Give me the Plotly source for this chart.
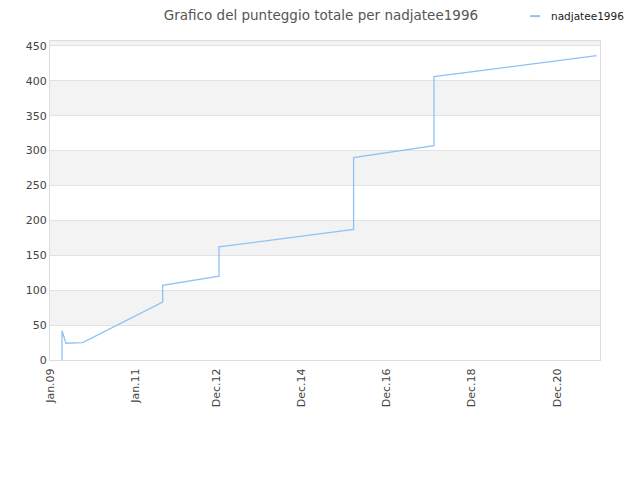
import plotly.graph_objects as go

# data
dates = ["2009-04-14", "2009-04-14", "2009-05-18", "2009-10-08",
         "2011-08-26", "2011-08-26", "2012-12-22", "2012-12-22",
         "2016-02-20", "2016-02-20", "2018-01-10", "2018-01-10",
         "2021-11-06"]
scores = [0, 42, 24, 25, 83, 107, 120, 162, 187, 290, 307, 406, 436]

tick_dates = ["2009-01-01", "2011-01-01", "2012-12-01", "2014-12-01",
              "2016-12-01", "2018-12-01", "2020-12-01"]
tick_text = ["Jan.09", "Jan.11", "Dec.12", "Dec.14", "Dec.16", "Dec.18", "Dec.20"]
y_ticks = [0, 50, 100, 150, 200, 250, 300, 350, 400, 450]
y_top = 457
line_color = "#90c2f4"

fig = go.Figure()
fig.add_trace(go.Scatter(x=dates, y=scores, mode="lines", name="nadjatee1996",
                         line=dict(color=line_color, width=1.3)))

# alternating grey bands
bands = y_ticks + [y_top]
for i in range(len(bands) - 1):
    if i % 2 == 1:
        fig.add_shape(type="rect", xref="paper", yref="y", x0=0, x1=1,
                      y0=bands[i], y1=bands[i + 1], fillcolor="#f3f3f3",
                      line_width=0, layer="below")

# small legend drawn by hand (short line sample)
fig.add_shape(type="line", xref="paper", yref="paper", x0=0.873, x1=0.891,
              y0=1.078, y1=1.078, line=dict(color=line_color, width=2))
fig.add_annotation(text="nadjatee1996", xref="paper", yref="paper",
                   x=0.907, y=1.078, xanchor="left", yanchor="middle",
                   showarrow=False, font=dict(size=10.5, color="#222"))

# the page body adds 8px, margins are shifted to compensate
fig.update_layout(
    width=640, height=480,
    margin=dict(l=42, r=48, t=33, b=128, autoexpand=False),
    paper_bgcolor="white", plot_bgcolor="white",
    font=dict(family="DejaVu Sans", size=11, color="#444"),
    title=dict(text="Grafico del punteggio totale per nadjatee1996",
               x=0.489, xanchor="center", y=0.995, yanchor="top",
               font=dict(size=13.5, color="#555")),
    showlegend=False,
)
fig.update_xaxes(range=["2009-01-01", "2021-12-05"], tickvals=tick_dates,
                 ticktext=tick_text, tickangle=-90, showgrid=False,
                 showline=True, linecolor="#ddd", mirror=True, ticks="",
                 zeroline=False, ticklabelstandoff=3)
fig.update_yaxes(range=[0, y_top], tickvals=y_ticks, showgrid=True,
                 gridcolor="#e2e2e2", showline=True, linecolor="#ddd",
                 mirror=True, ticks="", zeroline=False)

fig.write_html("out.html")
